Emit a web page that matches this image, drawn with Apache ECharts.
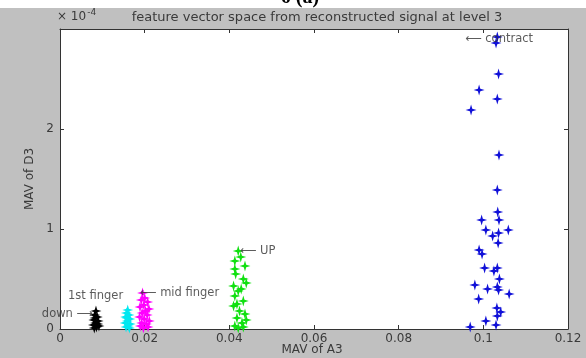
<!DOCTYPE html>
<html>
<head>
<meta charset="utf-8">
<script src="https://cdn.jsdelivr.net/npm/echarts@6/dist/echarts.min.js"></script>
<style>
  html, body { margin: 0; padding: 0; background: #c0c0c0; }
  #chart { width: 586px; height: 358px; }
</style>
</head>
<body>
<div id="chart"></div>
<script>
// y values are in units of 1e-4 (the axis shows "x 10^-4")
const xTicks = [0, 0.02, 0.04, 0.06, 0.08, 0.1, 0.12];
const yTicks = [0, 1, 2];

const downPts = [
  [0.0085, 0.18], [0.0082, 0.14], [0.0088, 0.12], [0.0080, 0.09], [0.0090, 0.08],
  [0.0084, 0.06], [0.0079, 0.04], [0.0092, 0.03], [0.0086, 0.02], [0.0081, 0.01],
  [0.0089, 0.05], [0.0083, 0.11]
];
const firstFingerPts = [
  [0.0160, 0.19], [0.0157, 0.16], [0.0163, 0.14], [0.0155, 0.12], [0.0165, 0.10],
  [0.0159, 0.08], [0.0154, 0.06], [0.0166, 0.05], [0.0161, 0.03], [0.0156, 0.02],
  [0.0164, 0.01], [0.0158, 0.11]
];
const midFingerPts = [
  [0.0195, 0.36], [0.0200, 0.31], [0.0192, 0.29], [0.0207, 0.27], [0.0198, 0.24],
  [0.0189, 0.22], [0.0210, 0.20], [0.0202, 0.18], [0.0194, 0.16], [0.0206, 0.14],
  [0.0188, 0.12], [0.0199, 0.10], [0.0211, 0.08], [0.0193, 0.06], [0.0204, 0.05],
  [0.0190, 0.03], [0.0208, 0.02], [0.0197, 0.01]
];
const upPts = [
  [0.0421, 0.78], [0.0427, 0.72], [0.0413, 0.68], [0.0437, 0.63], [0.0413, 0.60],
  [0.0415, 0.55], [0.0433, 0.50], [0.0440, 0.46], [0.0410, 0.43], [0.0428, 0.40],
  [0.0421, 0.38], [0.0413, 0.33], [0.0433, 0.28], [0.0418, 0.25], [0.0410, 0.23],
  [0.0424, 0.18], [0.0437, 0.15], [0.0418, 0.11], [0.0440, 0.09], [0.0430, 0.06],
  [0.0413, 0.03], [0.0433, 0.02], [0.0421, 0.01]
];
const contractPts = [
  [0.1033, 2.92], [0.1030, 2.86], [0.1036, 2.55], [0.0990, 2.39], [0.1033, 2.30],
  [0.0971, 2.19], [0.1037, 1.74], [0.1033, 1.39], [0.1034, 1.17], [0.0996, 1.09],
  [0.1037, 1.09], [0.1006, 0.99], [0.1059, 0.99], [0.1036, 0.96], [0.1022, 0.93],
  [0.1035, 0.86], [0.0990, 0.79], [0.0997, 0.75], [0.1003, 0.61], [0.1033, 0.61],
  [0.1025, 0.58], [0.1038, 0.50], [0.0980, 0.44], [0.1010, 0.40], [0.1033, 0.42],
  [0.1036, 0.39], [0.1061, 0.35], [0.0989, 0.30], [0.1032, 0.21], [0.1041, 0.17],
  [0.1033, 0.13], [0.1006, 0.08], [0.0969, 0.02], [0.1030, 0.04]
];

// text annotations (MATLAB text() calls)
const noteText = ['down \u27f6', '1st finger', '\u27f5 mid finger', '\u27f5 UP', '\u27f5 contract'];
const noteX = [0.0078, 0.0019, 0.0189, 0.0425, 0.0957];
const noteY = [0.15, 0.33, 0.36, 0.78, 2.9];

const star = 'path://M0,-10L2.2,-2.2L10,0L2.2,2.2L0,10L-2.2,2.2L-10,0L-2.2,-2.2Z';
const font = '"DejaVu Sans", sans-serif';

function cluster(data, color) {
  return {
    type: 'scatter',
    data: data,
    symbol: star,
    symbolSize: 11,
    itemStyle: { color: color, opacity: 1 },
    silent: true
  };
}

const chart = echarts.init(document.getElementById('chart'));

const axisCommon = {
  axisLine: { show: true, onZero: false, lineStyle: { color: '#333', width: 1 } },
  axisTick: { show: true, inside: true, length: 4, lineStyle: { color: '#333' } },
  splitLine: { show: false }
};

chart.setOption({
  backgroundColor: '#c0c0c0',
  animation: false,
  textStyle: { fontFamily: font },
  title: {
    text: 'feature vector space from reconstructed signal at level 3',
    left: 312,
    textAlign: 'center',
    top: 6,
    textStyle: { fontSize: 13, fontWeight: 'normal', color: '#3a3a3a', fontFamily: font }
  },
  graphic: [
    { type: 'rect', shape: { x: 0, y: 0, width: 586, height: 8 }, style: { fill: '#fff' }, z: 0 },
    {
      type: 'text', x: 300, y: 8,
      style: { text: '6 (a)', font: 'bold 20px "Liberation Serif", serif', fill: '#000', textAlign: 'center', textVerticalAlign: 'bottom' },
      z: 1
    },
    {
      type: 'text', x: 57, y: 17,
      style: {
        text: '{a|\u00d7 10}{b|-4}',
        textVerticalAlign: 'middle',
        rich: {
          a: { fontSize: 12, fill: '#3a3a3a', fontFamily: font },
          b: { fontSize: 9, fill: '#3a3a3a', fontFamily: font, padding: [0, 0, 9, 1] }
        }
      }
    },
    // x axis title (axis name kept getting pushed to the edge)
    {
      type: 'text', x: 312, y: 350,
      style: { text: 'MAV of A3', font: '12px "DejaVu Sans", sans-serif', fill: '#3a3a3a', textAlign: 'center', textVerticalAlign: 'middle' }
    }
  ],
  grid: {
    left: 60, right: 18, top: 29, bottom: 29,
    outerBoundsMode: 'none',
    show: true, backgroundColor: '#fff', borderWidth: 0
  },
  xAxis: [
    Object.assign({}, axisCommon, {
      type: 'value',
      min: xTicks[0],
      max: xTicks[xTicks.length - 1],
      interval: 0.02,
      axisLabel: {
        fontSize: 12, color: '#3a3a3a', margin: 4,
        formatter: function (v) {
          if (v === 0) return '0';
          return v.toFixed(2).replace(/0$/, '');
        }
      }
    }),
    Object.assign({}, axisCommon, {
      type: 'value', position: 'top',
      min: xTicks[0], max: xTicks[xTicks.length - 1], interval: 0.02,
      axisLabel: { show: false }
    })
  ],
  yAxis: [
    Object.assign({}, axisCommon, {
      type: 'value',
      min: 0,
      max: 3,
      interval: 1,
      name: 'MAV of D3',
      nameLocation: 'middle',
      nameGap: 22,
      nameTextStyle: { fontSize: 12, color: '#3a3a3a' },
      axisLabel: {
        fontSize: 12, color: '#3a3a3a', margin: 6,
        formatter: function (v) {
          return yTicks.indexOf(v) >= 0 ? String(v) : '';
        }
      }
    }),
    Object.assign({}, axisCommon, {
      type: 'value', position: 'right',
      min: 0, max: 3, interval: 1,
      axisLabel: { show: false }
    })
  ],
  series: [
    cluster(downPts, '#000000'),
    cluster(firstFingerPts, '#00e8f0'),
    cluster(midFingerPts, '#ff00ff'),
    cluster(upPts, '#10e010'),
    cluster(contractPts, '#1010d8'),
    {
      type: 'scatter',
      symbolSize: 0,
      silent: true,
      z: 5,
      data: noteText.map(function (t, i) {
        return {
          value: [noteX[i], noteY[i]],
          label: {
            show: true,
            formatter: t,
            position: i === 0 ? 'left' : 'right',
            distance: 0,
            fontSize: 11.5,
            color: '#333',
            fontFamily: font
          }
        };
      })
    }
  ]
});
</script>
</body>
</html>
